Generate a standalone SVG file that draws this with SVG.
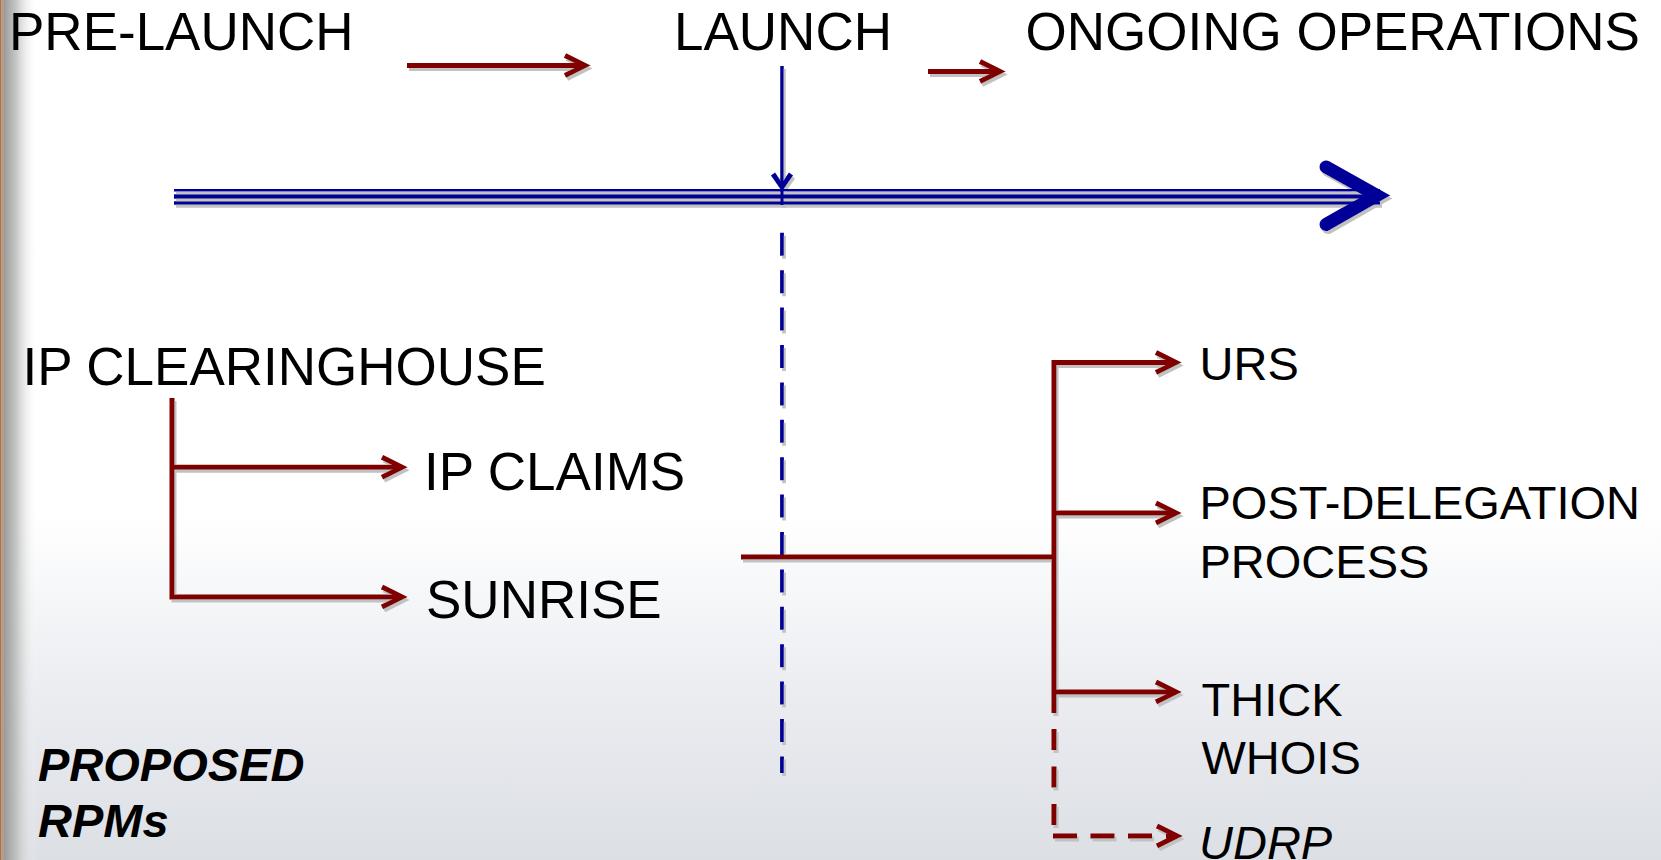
<svg xmlns="http://www.w3.org/2000/svg" width="1661" height="860" viewBox="0 0 1661 860">
<style>
.t{font-family:"Liberation Sans",Arial,sans-serif;fill:#000}
.big{font-size:53px}
.mid{font-size:47px}
.it{font-style:italic}
.bi{font-style:italic;font-weight:bold;font-size:47px}
.red{fill:none;stroke:#800000;stroke-width:5}
.blue{fill:none;stroke:#000099}
</style>
<defs>
<linearGradient id="bg" x1="0" y1="0" x2="0" y2="1">
<stop offset="0" stop-color="#ffffff"/>
<stop offset="0.6" stop-color="#ffffff"/>
<stop offset="0.8" stop-color="#ebedf1"/>
<stop offset="1" stop-color="#dcdfe4"/>
</linearGradient>
<linearGradient id="edge" x1="0" y1="0" x2="1" y2="0">
<stop offset="0" stop-color="#9a9a9a" stop-opacity="1"/>
<stop offset="0.35" stop-color="#b5b8b5" stop-opacity="0.8"/>
<stop offset="1" stop-color="#ffffff" stop-opacity="0"/>
</linearGradient>
<filter id="sh" x="-5%" y="-20%" width="110%" height="140%">
<feOffset in="SourceAlpha" dx="2" dy="3" result="o"/>
<feFlood flood-color="#c2c2c2"/>
<feComposite in2="o" operator="in" result="s"/>
<feMerge><feMergeNode in="s"/><feMergeNode in="SourceGraphic"/></feMerge>
</filter>
<marker id="ar" markerUnits="userSpaceOnUse" viewBox="-26 -14 32 28" refX="0" refY="0" markerWidth="32" markerHeight="28" orient="auto" overflow="visible">
<path d="M-20,-10 L0,0 L-20,10" fill="none" stroke="#800000" stroke-width="5"/>
</marker>
</defs>

<rect x="0" y="0" width="1661" height="860" fill="url(#bg)"/>
<rect x="4" y="0" width="34" height="860" fill="url(#edge)"/>
<rect x="0" y="0" width="4" height="860" fill="#c09a80"/>
<rect x="0" y="0" width="1" height="860" fill="#9c7860"/>

<g id="connectors" filter="url(#sh)">
<path class="red" d="M407,65.5 H585" marker-end="url(#ar)"/>
<path class="red" d="M928,71.5 H1000" marker-end="url(#ar)"/>
<g id="timeline">
<line class="blue" x1="174" y1="190.3" x2="1380" y2="190.3" stroke-width="2.6"/>
<line class="blue" x1="174" y1="196.5" x2="1380" y2="196.5" stroke-width="4.4"/>
<line class="blue" x1="174" y1="203" x2="1380" y2="203" stroke-width="3.6"/>
<polyline class="blue" points="1326,167 1377,195.5 1326,224.5" stroke-width="13" stroke-linecap="round" stroke-linejoin="miter"/>
</g>
<line class="blue" x1="782" y1="66" x2="782" y2="205" stroke-width="3.5"/>
<path class="blue" d="M773,174 L782,187 L791,174" stroke-width="5"/>
<line class="blue" x1="782" y1="232.8" x2="782" y2="773" stroke-width="3.8" stroke-dasharray="23 14.4"/>
<path class="red" d="M172,398 V597 H402" marker-end="url(#ar)"/>
<path class="red" d="M172,467.3 H402" marker-end="url(#ar)"/>
<path class="red" d="M741,557 H1054"/>
<path class="red" d="M1054,713 V362.5 H1176" marker-end="url(#ar)"/>
<path class="red" d="M1054,513 H1176" marker-end="url(#ar)"/>
<path class="red" d="M1054,692 H1176" marker-end="url(#ar)"/>
<path class="red" d="M1054,729 V826" stroke-dasharray="21 16.5"/>
<path class="red" d="M1053,836 H1158" stroke-dasharray="24 13.5"/>
<path class="red" d="M1166,836 H1177" marker-end="url(#ar)"/>
</g>

<g id="pre-launch"><text class="t big" x="9" y="50">PRE-LAUNCH</text></g>
<g id="launch"><text class="t big" x="674" y="50">LAUNCH</text></g>
<g id="ongoing-operations"><text class="t big" x="1025.5" y="49.5">ONGOING OPERATIONS</text></g>
<g id="ip-clearinghouse"><text class="t big" x="22.5" y="385">IP CLEARINGHOUSE</text></g>
<g id="ip-claims"><text class="t big" x="424" y="490">IP CLAIMS</text></g>
<g id="sunrise"><text class="t big" x="426" y="618">SUNRISE</text></g>
<g id="urs"><text class="t mid" x="1199.5" y="380">URS</text></g>
<g id="post-delegation"><text class="t mid" x="1199.5" y="519">POST-DELEGATION</text><text class="t mid" x="1199.5" y="578">PROCESS</text></g>
<g id="thick-whois"><text class="t mid" x="1201.5" y="716">THICK</text><text class="t mid" x="1201.5" y="774">WHOIS</text></g>
<g id="udrp"><text class="t mid it" x="1199" y="859">UDRP</text></g>
<g id="proposed-rpms"><text class="t bi" x="38" y="781">PROPOSED</text><text class="t bi" x="38" y="837">RPMs</text></g>
</svg>
